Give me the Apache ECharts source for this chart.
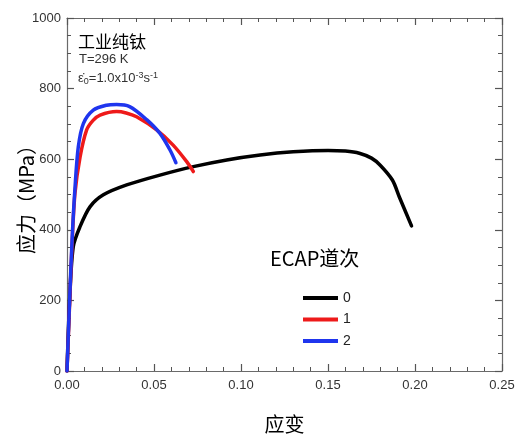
<!DOCTYPE html>
<html>
<head>
<meta charset="utf-8">
<script src="https://cdn.jsdelivr.net/npm/echarts@6/dist/echarts.min.js"></script>
<style>
html, body { margin: 0; padding: 0; background: #fff; }
#chart { width: 525px; height: 438px; }
</style>
</head>
<body>
<div id="chart"></div>
<script>
// 应变 / 应力 数据
const strain0 = [0, 0.0015, 0.0036, 0.0075, 0.0132, 0.0209, 0.0343, 0.0534, 0.0726, 0.0918, 0.111, 0.130, 0.150, 0.160, 0.168, 0.175, 0.180, 0.187, 0.191, 0.198];
const stress0 = [0, 200, 352, 409, 465, 499, 527, 555, 579, 598, 612, 621, 625, 623, 617, 603, 583, 541, 493, 411];

const strain1 = [0, 0.0015, 0.003, 0.0046, 0.0075, 0.0113, 0.015, 0.019, 0.0285, 0.034, 0.040, 0.0515, 0.061, 0.0688, 0.0726];
const stress1 = [0, 190, 370, 504, 606, 683, 710, 725, 735, 731, 720, 683, 640, 593, 565];

const strain2 = [0, 0.0015, 0.003, 0.0046, 0.0065, 0.0094, 0.0151, 0.0228, 0.0285, 0.036, 0.0458, 0.0534, 0.0592, 0.0626];
const stress2 = [0, 200, 380, 520, 635, 701, 739, 753, 755, 749, 712, 673, 626, 590];

const passNames = ['0', '1', '2'];
const passColors = ['#000000', '#ee1a1a', '#1f35ee'];

const xTicks = { min: 0, max: 0.25, interval: 0.05 };
const yTicks = { min: 0, max: 1000, interval: 200 };

function pairs(xs, ys) {
    return xs.map((x, i) => [x, ys[i]]);
}

function tickAxis(extra, minorSplit) {
    return Object.assign({
        type: 'value',
        axisLine: { show: true, onZero: false, lineStyle: { color: '#6a6a6a', width: 1.2 } },
        axisTick: { show: true, inside: true, length: 7, lineStyle: { color: '#555', width: 1.2 } },
        minorTick: { show: true, splitNumber: minorSplit, length: 4, lineStyle: { color: '#555', width: 1 } },
        splitLine: { show: false },
        minorSplitLine: { show: false }
    }, extra);
}

const chart = echarts.init(document.getElementById('chart'));

chart.setOption({
    animation: false,
    grid: { left: 67, right: 23, top: 18, bottom: 67, containLabel: false, outerBoundsMode: 'none' },
    xAxis: [
        tickAxis({
            position: 'bottom',
            min: xTicks.min, max: xTicks.max, interval: xTicks.interval,
            axisLabel: { color: '#333', fontSize: 13, margin: 8, formatter: v => v.toFixed(2) },
            name: '应变',
            nameLocation: 'middle',
            nameGap: 43,
            nameMoveOverlap: false,
            nameTextStyle: { color: '#000', fontSize: 20, fontFamily: 'Noto Sans CJK SC' }
        }, 5),
        tickAxis({
            position: 'top',
            min: xTicks.min, max: xTicks.max, interval: xTicks.interval,
            axisLabel: { show: false }
        }, 5)
    ],
    yAxis: [
        tickAxis({
            position: 'left',
            min: yTicks.min, max: yTicks.max, interval: yTicks.interval,
            axisLabel: { color: '#333', fontSize: 13, margin: 6, formatter: v => String(v) },
            name: '应力（MPa）',
            nameLocation: 'middle',
            nameGap: 31,
            nameRotate: 90,
            nameMoveOverlap: false,
            nameTextStyle: { color: '#000', fontSize: 20, fontFamily: 'Noto Sans CJK SC' }
        }, 4),
        tickAxis({
            position: 'right',
            min: yTicks.min, max: yTicks.max, interval: yTicks.interval,
            axisLabel: { show: false }
        }, 4)
    ],
    legend: {
        orient: 'vertical',
        left: 298,
        top: 286,
        icon: 'rect',
        itemWidth: 35,
        itemHeight: 4,
        itemGap: 7.5,
        textStyle: { color: '#222', fontSize: 14 },
        data: passNames
    },
    graphic: [
        { type: 'text', left: 270, top: 248, style: { text: 'ECAP道次', fontSize: 20, fill: '#000', fontFamily: 'Noto Sans CJK SC' } },
        { type: 'text', left: 78, top: 33, style: { text: '工业纯钛', fontSize: 17, fill: '#000', fontFamily: 'Noto Sans CJK SC' } },
        { type: 'text', left: 79, top: 53, style: { text: 'T=296 K', fontSize: 13, fill: '#333', fontFamily: 'Liberation Sans' } },
        {
            type: 'text', left: 78, top: 71,
            style: {
                text: '{n|ε̇}{sub|0}{n|=1.0x10}{sup|-3}{n|s}{sup|-1}',
                fill: '#333',
                fontFamily: 'Liberation Sans',
                rich: {
                    n: { fontSize: 13, fill: '#333', fontFamily: 'Liberation Sans' },
                    sub: { fontSize: 9, fill: '#333', verticalAlign: 'bottom', padding: [6, 0, 0, 0] },
                    sup: { fontSize: 9, fill: '#333', verticalAlign: 'top', padding: [0, 0, 6, 0] }
                }
            }
        }
    ],
    series: [
        { name: passNames[0], data: pairs(strain0, stress0) },
        { name: passNames[1], data: pairs(strain1, stress1) },
        { name: passNames[2], data: pairs(strain2, stress2) }
    ].map((s, i) => ({
        name: s.name,
        type: 'line',
        xAxisIndex: 0,
        yAxisIndex: 0,
        data: s.data,
        smooth: 0.3,
        showSymbol: false,
        symbol: 'none',
        color: passColors[i],
        lineStyle: { color: passColors[i], width: 3.5, cap: 'round', join: 'round' }
    }))
});
</script>
</body>
</html>
